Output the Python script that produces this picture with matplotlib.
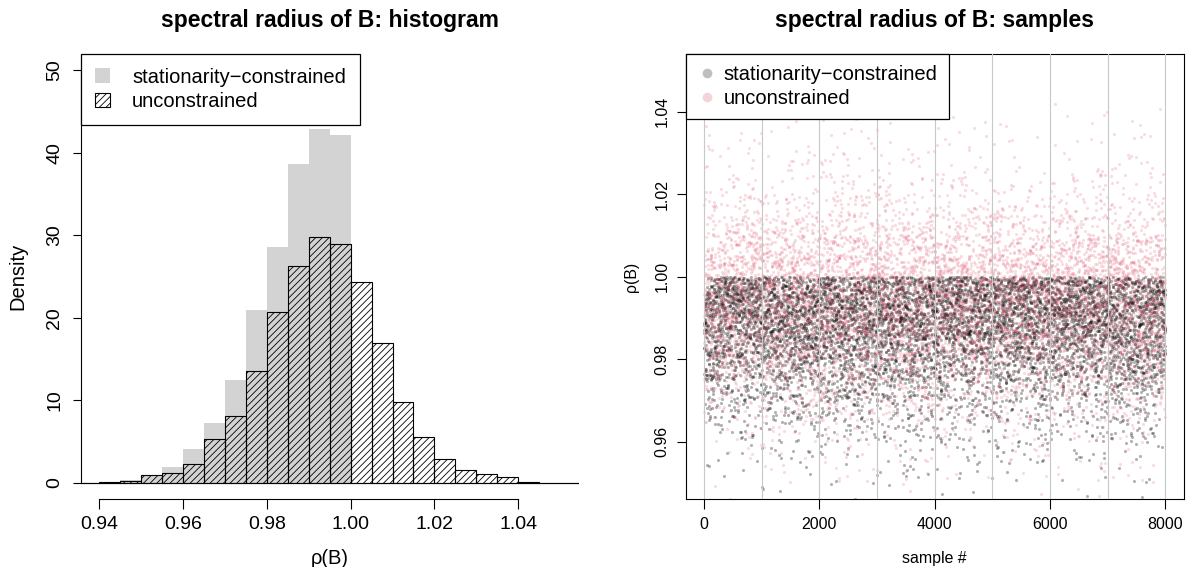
import numpy as np
import matplotlib
matplotlib.use("Agg")
import matplotlib.pyplot as plt
from matplotlib.patches import Patch
from matplotlib.lines import Line2D

plt.rcParams['font.family'] = ['Liberation Sans', 'DejaVu Sans']
plt.rcParams['hatch.linewidth'] = 0.6

# histogram densities, bins of width 0.005 starting at 0.935
bin_left = 0.935
bin_width = 0.005
dens_constrained = [0.0, 0.05, 0.3, 0.9, 1.9, 4.15, 7.2, 12.5, 21.0, 28.6, 38.7, 42.9, 42.1]
dens_unconstrained = [0.02, 0.05, 0.2, 0.9, 1.2, 2.3, 5.3, 8.15, 13.5, 20.7, 26.3, 29.8, 29.0,
                      24.3, 16.9, 9.8, 5.5, 2.94, 1.6, 1.1, 0.72, 0.1, 0.03, 0.02]
x_ticks_hist = [0.94, 0.96, 0.98, 1.00, 1.02, 1.04]
y_ticks_hist = [0, 10, 20, 30, 40, 50]

n_samples = 8000
x_ticks_samp = [0, 2000, 4000, 6000, 8000]
y_ticks_samp = [0.96, 0.98, 1.00, 1.02, 1.04]
grid_samp = list(range(0, 8001, 1000))

gray_fill = '#d3d3d3'
col_con = (0, 0, 0)
col_unc = (0.875, 0.325, 0.42)


def quantile_values(dens, u):
    # inverse of the piecewise-uniform cdf given by the histogram
    edges = bin_left + bin_width * np.arange(len(dens) + 1)
    cdf = np.concatenate([[0.0], np.cumsum(dens)])
    cdf = cdf / cdf[-1]
    return np.interp(u, cdf, edges)


def sample_order(n, mult, shift, p=8009):
    # fixed permutation of the quantile levels over the sample index
    # (cubing is a bijection mod 8009, since 3 does not divide 8008)
    i = np.arange(1, n + 1, dtype=np.int64)
    k = (i * mult) % p
    r = (k * k % p) * k % p
    r = (r + shift) % p
    return (r + 0.5) / p


W, H = 1186, 567
fig = plt.figure(figsize=(W / 100, H / 100), dpi=100)


def fx(px):
    return px / W


def fy(py):
    return 1 - py / H


# ---------------- left: histogram ----------------
ax1 = fig.add_axes([fx(80.7), fy(499.3), fx(578.6 - 80.7), (499.3 - 53.8) / H])
lefts_c = bin_left + bin_width * np.arange(len(dens_constrained))
lefts_u = bin_left + bin_width * np.arange(len(dens_unconstrained))
ax1.bar(lefts_c, dens_constrained, width=bin_width, align='edge', color=gray_fill, linewidth=0)
ax1.bar(lefts_u, dens_unconstrained, width=bin_width, align='edge', fill=False,
        hatch='/////', edgecolor='black', linewidth=0.8)
ax1.axhline(0, color='black', linewidth=0.8)
ax1.set_xlim(0.9356, 1.0544)
ax1.set_ylim(-2, 52)
for s in ['top', 'right']:
    ax1.spines[s].set_visible(False)
ax1.spines['left'].set_bounds(0, 50)
ax1.spines['bottom'].set_bounds(0.94, 1.04)
for s in ['left', 'bottom']:
    ax1.spines[s].set_linewidth(0.8)
ax1.set_xticks(x_ticks_hist)
ax1.set_xticklabels(['%.2f' % v for v in x_ticks_hist])
ax1.set_yticks(y_ticks_hist)
ax1.set_yticklabels([str(v) for v in y_ticks_hist], rotation=90, va='center')
ax1.tick_params(axis='x', length=7, width=0.8, labelsize=14, pad=5)
ax1.tick_params(axis='y', length=5.5, width=0.8, labelsize=14, pad=7)

leg1 = ax1.legend([Patch(facecolor=gray_fill, edgecolor='none'),
                   Patch(facecolor='white', edgecolor='black', hatch='/////', linewidth=0.8)],
                  ['stationarity\u2212constrained', 'unconstrained'],
                  loc='upper left', bbox_to_anchor=(0, 1), borderaxespad=0, fontsize=14.5,
                  fancybox=False, edgecolor='black', framealpha=1, borderpad=0.7,
                  handlelength=0.75, handleheight=0.75, handletextpad=1.1, labelspacing=0.25)
leg1.get_frame().set_linewidth(0.9)

fig.text(fx(329.7), fy(20), 'spectral radius of B: histogram', ha='center', va='center',
         fontsize=16.5, fontweight='bold')
fig.text(fx(329.7), fy(558), '\u03c1(B)', ha='center', va='center', fontsize=14.5)
fig.text(fx(18.3), fy(276.5), 'Density', ha='center', va='center', rotation=90, fontsize=14.5)

# ---------------- right: samples ----------------
ax2 = fig.add_axes([fx(685.6), fy(499.3), fx(1183.6 - 685.6), (499.3 - 53.8) / H])
idx = np.arange(1, n_samples + 1)
y_con = quantile_values(dens_constrained, sample_order(n_samples, 1234, 0))
y_unc = quantile_values(dens_unconstrained, sample_order(n_samples, 3571, 2500))
ax2.scatter(idx, y_con, s=5, color=col_con, alpha=0.3, linewidths=0)
ax2.scatter(idx, y_unc, s=5, color=col_unc, alpha=0.2, linewidths=0)
for g in grid_samp:
    ax2.axvline(g, color='#c8c8c8', linewidth=0.8, zorder=3)
ax2.set_xlim(-320, 8320)
ax2.set_ylim(0.946, 1.054)
for s in ax2.spines.values():
    s.set_linewidth(0.8)
ax2.set_xticks(x_ticks_samp)
ax2.set_xticklabels([str(v) for v in x_ticks_samp])
ax2.set_yticks(y_ticks_samp)
ax2.set_yticklabels(['%.2f' % v for v in y_ticks_samp], rotation=90, va='center')
ax2.tick_params(axis='x', length=7, width=0.8, labelsize=11.5, pad=6)
ax2.tick_params(axis='y', length=6.5, width=0.8, labelsize=11.5, pad=5)

leg2 = ax2.legend([Line2D([], [], marker='o', linestyle='none', markersize=7,
                          markerfacecolor=col_con + (0.25,), markeredgewidth=0),
                   Line2D([], [], marker='o', linestyle='none', markersize=7,
                          markerfacecolor=col_unc + (0.25,), markeredgewidth=0)],
                  ['stationarity\u2212constrained', 'unconstrained'],
                  loc='upper left', bbox_to_anchor=(0, 1), borderaxespad=0, fontsize=14.5,
                  fancybox=False, edgecolor='black', framealpha=1, borderpad=0.55,
                  handlelength=1.0, handletextpad=0.35, labelspacing=0.25)
leg2.get_frame().set_linewidth(0.9)

fig.text(fx(934.6), fy(20), 'spectral radius of B: samples', ha='center', va='center',
         fontsize=16.5, fontweight='bold')
fig.text(fx(934.6), fy(559), 'sample #', ha='center', va='center', fontsize=11.4)
fig.text(fx(631.7), fy(276.5), '\u03c1(B)', ha='center', va='center', rotation=90, fontsize=11.4)

fig.savefig('out.png', dpi=100)
